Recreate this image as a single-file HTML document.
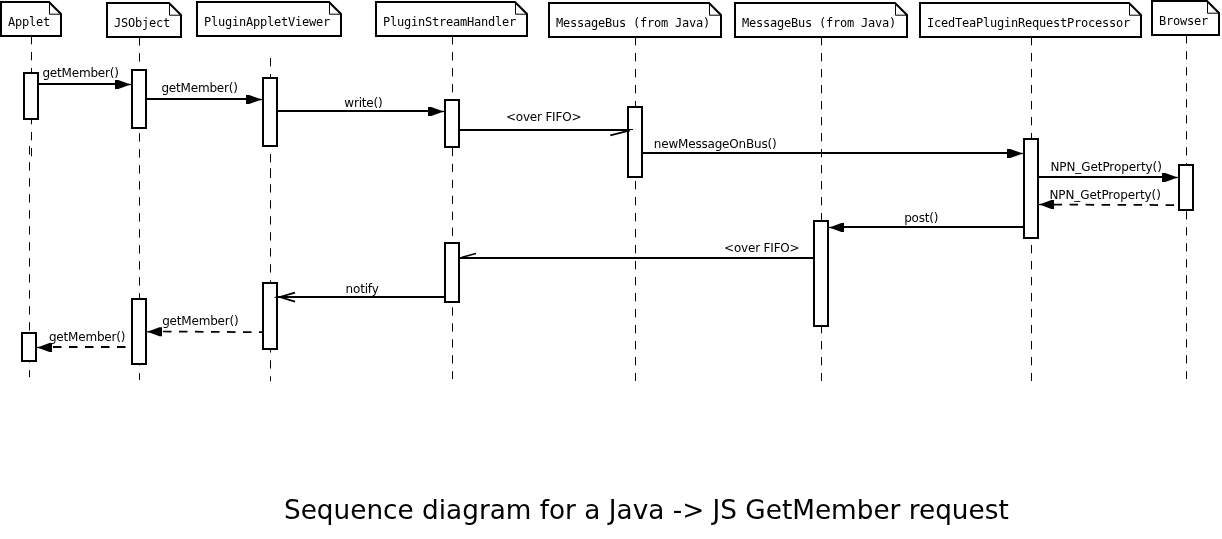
<!DOCTYPE html>
<html><head><meta charset="utf-8"><title>Sequence diagram</title>
<style>
html,body{margin:0;padding:0;background:#fff;}
svg{display:block}
.m{font-family:"DejaVu Sans Mono","Liberation Mono",monospace;font-size:12px;letter-spacing:-0.224px;fill:#000}
.s{font-family:"DejaVu Sans","Liberation Sans",sans-serif;font-size:12px;letter-spacing:-0.19px;fill:#000}
.t{font-family:"DejaVu Sans","Liberation Sans",sans-serif;font-size:26.3px;fill:#000}
</style></head><body>
<svg style="filter:grayscale(1)" width="1222" height="539" viewBox="0 0 1222 539">
<rect width="1222" height="539" fill="#fff"/>
<line x1="31.5" y1="36" x2="31.5" y2="156.3" stroke="#000" stroke-width="1.0" stroke-dasharray="8.3 7.7"/>
<line x1="29.5" y1="146.2" x2="29.5" y2="377.2" stroke="#000" stroke-width="1.0" stroke-dasharray="8.3 7.7"/>
<line x1="139.5" y1="37.2" x2="139.5" y2="380" stroke="#000" stroke-width="1.0" stroke-dasharray="8.3 7.7"/>
<line x1="270.5" y1="58" x2="270.5" y2="178" stroke="#000" stroke-width="1.0" stroke-dasharray="8.3 7.7"/>
<line x1="270.5" y1="168.3" x2="270.5" y2="381.2" stroke="#000" stroke-width="1.0" stroke-dasharray="8.3 7.7"/>
<line x1="452.5" y1="36.2" x2="452.5" y2="379" stroke="#000" stroke-width="1.0" stroke-dasharray="8.3 7.65"/>
<line x1="635.5" y1="37" x2="635.5" y2="381" stroke="#000" stroke-width="1.0" stroke-dasharray="8.3 7.7"/>
<line x1="821.5" y1="37" x2="821.5" y2="381" stroke="#000" stroke-width="1.0" stroke-dasharray="8.3 7.7"/>
<line x1="1031.5" y1="37" x2="1031.5" y2="381" stroke="#000" stroke-width="1.0" stroke-dasharray="8.3 7.7"/>
<line x1="1186.5" y1="35.2" x2="1186.5" y2="379" stroke="#000" stroke-width="1.0" stroke-dasharray="8.3 7.7"/>
<path d="M1 2 H49 L61 14 V36 H1 Z" fill="#fff" stroke="#000" stroke-width="2" stroke-linejoin="miter"/>
<path d="M49.5 2 V14.2 H61" fill="none" stroke="#000" stroke-width="1"/>
<text x="8" y="26" class="m">Applet</text>
<path d="M107 3 H169 L181 15 V37 H107 Z" fill="#fff" stroke="#000" stroke-width="2" stroke-linejoin="miter"/>
<path d="M169.5 3 V15.2 H181" fill="none" stroke="#000" stroke-width="1"/>
<text x="114" y="27" class="m">JSObject</text>
<path d="M197 2 H329 L341 14 V36 H197 Z" fill="#fff" stroke="#000" stroke-width="2" stroke-linejoin="miter"/>
<path d="M329.5 2 V14.2 H341" fill="none" stroke="#000" stroke-width="1"/>
<text x="204" y="26" class="m">PluginAppletViewer</text>
<path d="M376 2 H515 L527 14 V36 H376 Z" fill="#fff" stroke="#000" stroke-width="2" stroke-linejoin="miter"/>
<path d="M515.5 2 V14.2 H527" fill="none" stroke="#000" stroke-width="1"/>
<text x="383" y="26" class="m">PluginStreamHandler</text>
<path d="M549 3 H709 L721 15 V37 H549 Z" fill="#fff" stroke="#000" stroke-width="2" stroke-linejoin="miter"/>
<path d="M709.5 3 V15.2 H721" fill="none" stroke="#000" stroke-width="1"/>
<text x="556" y="27" class="m">MessageBus (from Java)</text>
<path d="M735 3 H895 L907 15 V37 H735 Z" fill="#fff" stroke="#000" stroke-width="2" stroke-linejoin="miter"/>
<path d="M895.5 3 V15.2 H907" fill="none" stroke="#000" stroke-width="1"/>
<text x="742" y="27" class="m">MessageBus (from Java)</text>
<path d="M920 3 H1129 L1141 15 V37 H920 Z" fill="#fff" stroke="#000" stroke-width="2" stroke-linejoin="miter"/>
<path d="M1129.5 3 V15.2 H1141" fill="none" stroke="#000" stroke-width="1"/>
<text x="927" y="27" class="m">IcedTeaPluginRequestProcessor</text>
<path d="M1152 1 H1207 L1219 13 V35 H1152 Z" fill="#fff" stroke="#000" stroke-width="2" stroke-linejoin="miter"/>
<path d="M1207.5 1 V13.2 H1219" fill="none" stroke="#000" stroke-width="1"/>
<text x="1159" y="25" class="m">Browser</text>
<rect x="24.00" y="73.00" width="14.00" height="46.00" fill="#fff" stroke="#000" stroke-width="2"/>
<rect x="132.00" y="70.00" width="14.00" height="58.00" fill="#fff" stroke="#000" stroke-width="2"/>
<rect x="263.00" y="78.00" width="14.00" height="68.00" fill="#fff" stroke="#000" stroke-width="2"/>
<rect x="445.00" y="100.00" width="14.00" height="47.00" fill="#fff" stroke="#000" stroke-width="2"/>
<rect x="628.00" y="107.00" width="14.00" height="70.00" fill="#fff" stroke="#000" stroke-width="2"/>
<rect x="1024.00" y="139.00" width="14.00" height="99.00" fill="#fff" stroke="#000" stroke-width="2"/>
<rect x="1179.00" y="165.00" width="14.00" height="45.00" fill="#fff" stroke="#000" stroke-width="2"/>
<rect x="814.00" y="221.00" width="14.00" height="105.00" fill="#fff" stroke="#000" stroke-width="2"/>
<rect x="445.00" y="243.00" width="14.00" height="59.00" fill="#fff" stroke="#000" stroke-width="2"/>
<rect x="263.00" y="283.00" width="14.00" height="66.00" fill="#fff" stroke="#000" stroke-width="2"/>
<rect x="132.00" y="299.00" width="14.00" height="65.00" fill="#fff" stroke="#000" stroke-width="2"/>
<rect x="22.00" y="333.00" width="14.00" height="28.00" fill="#fff" stroke="#000" stroke-width="2"/>
<line x1="39" y1="84" x2="118" y2="84" stroke="#000" stroke-width="2"/>
<path d="M115.00 80.00 L118.20 80.00 L128.00 83.50 L131.00 84.00 L131.00 85.00 L128.00 85.50 L118.20 89.00 L115.00 89.00 Z" fill="#000"/>
<text x="42.4" y="77" class="s">getMember()</text>
<line x1="147" y1="99" x2="249" y2="99" stroke="#000" stroke-width="2"/>
<path d="M246.00 95.00 L249.20 95.00 L259.00 98.50 L262.00 99.00 L262.00 100.00 L259.00 100.50 L249.20 104.00 L246.00 104.00 Z" fill="#000"/>
<text x="161.4" y="92" class="s">getMember()</text>
<line x1="278" y1="111" x2="431" y2="111" stroke="#000" stroke-width="2"/>
<path d="M428.00 107.00 L431.20 107.00 L441.00 110.50 L444.00 111.00 L444.00 112.00 L441.00 112.50 L431.20 116.00 L428.00 116.00 Z" fill="#000"/>
<text x="344.3" y="107" class="s">write()</text>
<line x1="460" y1="130" x2="628" y2="130" stroke="#000" stroke-width="2"/>
<line x1="627" y1="129.5" x2="633" y2="129.5" stroke="#000" stroke-width="1"/>
<line x1="610.3" y1="135.3" x2="630" y2="130.3" stroke="#000" stroke-width="1.8"/>
<text x="505.9" y="121" class="s">&lt;over FIFO&gt;</text>
<line x1="643" y1="153" x2="1010" y2="153" stroke="#000" stroke-width="2"/>
<path d="M1007.00 149.00 L1010.20 149.00 L1020.00 152.50 L1023.00 153.00 L1023.00 154.00 L1020.00 154.50 L1010.20 158.00 L1007.00 158.00 Z" fill="#000"/>
<text x="653.8" y="148" class="s">newMessageOnBus()</text>
<line x1="1039" y1="177" x2="1165" y2="177" stroke="#000" stroke-width="2"/>
<path d="M1162.00 173.00 L1165.20 173.00 L1175.00 176.50 L1178.00 177.00 L1178.00 178.00 L1175.00 178.50 L1165.20 182.00 L1162.00 182.00 Z" fill="#000"/>
<text x="1050.4" y="171" class="s" style="letter-spacing:-0.08px">NPN_GetProperty()</text>
<line x1="1053.6" y1="204.6" x2="1178" y2="205.1" stroke="#000" stroke-width="1.75" stroke-dasharray="8.5 7.5"/>
<path d="M1054.00 200.00 L1051.40 200.00 L1042.00 203.50 L1039.00 204.00 L1039.00 205.00 L1042.00 205.50 L1051.40 209.00 L1054.00 209.00 Z" fill="#000"/>
<text x="1049.4" y="199" class="s" style="letter-spacing:-0.08px">NPN_GetProperty()</text>
<line x1="1023" y1="227" x2="842" y2="227" stroke="#000" stroke-width="2"/>
<path d="M844.00 223.00 L841.40 223.00 L832.00 226.50 L829.00 227.00 L829.00 228.00 L832.00 228.50 L841.40 232.00 L844.00 232.00 Z" fill="#000"/>
<text x="904.2" y="222" class="s">post()</text>
<line x1="813" y1="258" x2="460" y2="258" stroke="#000" stroke-width="2"/>
<line x1="462" y1="257.2" x2="476" y2="253.6" stroke="#000" stroke-width="1.5"/>
<text x="724.1" y="252" class="s">&lt;over FIFO&gt;</text>
<line x1="444" y1="297" x2="278" y2="297" stroke="#000" stroke-width="2"/>
<line x1="274.5" y1="297.3" x2="280" y2="297.3" stroke="#000" stroke-width="1"/>
<path d="M295 292.7 L280 297 L295 301.7" fill="none" stroke="#000" stroke-width="1.8" stroke-linejoin="miter"/>
<text x="345.6" y="293" class="s">notify</text>
<line x1="163" y1="331.5" x2="262" y2="332.2" stroke="#000" stroke-width="1.75" stroke-dasharray="8.5 7.5"/>
<path d="M162.00 327.30 L159.40 327.30 L150.00 330.80 L147.00 331.30 L147.00 332.30 L150.00 332.80 L159.40 336.30 L162.00 336.30 Z" fill="#000"/>
<text x="162.2" y="325" class="s">getMember()</text>
<line x1="53" y1="347" x2="131" y2="347" stroke="#000" stroke-width="2" stroke-dasharray="8.5 7.5"/>
<path d="M52.00 343.00 L49.40 343.00 L40.00 346.50 L37.00 347.00 L37.00 348.00 L40.00 348.50 L49.40 352.00 L52.00 352.00 Z" fill="#000"/>
<text x="48.9" y="341" class="s">getMember()</text>
<text x="284" y="519" class="t">Sequence diagram for a Java -&gt; JS GetMember request</text>
</svg>
</body></html>
